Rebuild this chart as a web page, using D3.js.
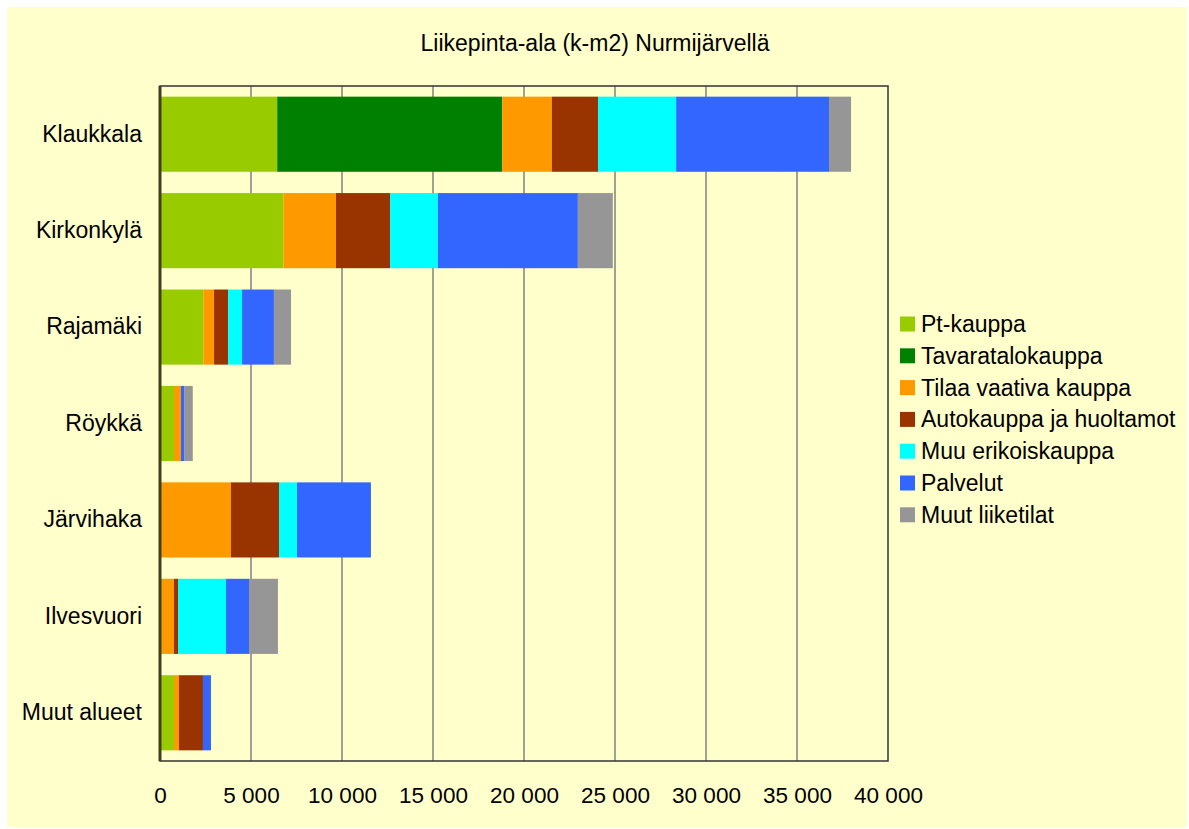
<!DOCTYPE html>
<html>
<head>
<meta charset="utf-8">
<script src="https://cdn.jsdelivr.net/npm/d3@7"></script>
<style>
  body { margin: 0; background: #fff; }
  text { font-family: "Liberation Sans", Arial, sans-serif; fill: #000; }
</style>
</head>
<body>
<div id="chart"></div>
<script>
const areas = ['Klaukkala', 'Kirkonkylä', 'Rajamäki', 'Röykkä', 'Järvihaka', 'Ilvesvuori', 'Muut alueet'];
const seriesNames = ['Pt-kauppa', 'Tavaratalokauppa', 'Tilaa vaativa kauppa', 'Autokauppa ja huoltamot', 'Muu erikoiskauppa', 'Palvelut', 'Muut liiketilat'];
const colors = ['#99CC00', '#008000', '#FF9900', '#993300', '#00FFFF', '#3366FF', '#969696'];

// values in m2, one array per series, in area order
const ptKauppa   = [6440, 6790, 2380, 770, 0, 0, 770];
const tavaratalo = [12360, 0, 0, 0, 0, 0, 0];
const tilaaVaat  = [2730, 2880, 590, 380, 3900, 770, 270];
const autokauppa = [2540, 2970, 770, 0, 2640, 220, 1320];
const muuErik    = [4290, 2630, 770, 0, 990, 2640, 0];
const palvelut   = [8400, 7690, 1750, 200, 4060, 1260, 440];
const muutTilat  = [1210, 1920, 940, 450, 0, 1590, 0];
const xTicks = [0, 5000, 10000, 15000, 20000, 25000, 30000, 35000, 40000];

const seriesValues = [ptKauppa, tavaratalo, tilaaVaat, autokauppa, muuErik, palvelut, muutTilat];
const rows = areas.map((a, i) => {
  const r = { area: a };
  seriesNames.forEach((s, j) => { r[s] = seriesValues[j][i]; });
  return r;
});

const W = 1189, H = 829;
const plot = { left: 160, right: 888, top: 86, bottom: 761 };

const svg = d3.select('#chart').append('svg')
  .attr('width', W)
  .attr('height', H);

// chart background
svg.append('rect')
  .attr('x', 7).attr('y', 7)
  .attr('width', W - 9).attr('height', H - 9)
  .attr('fill', '#FFFFCC');

const x = d3.scaleLinear().domain([0, 40000]).range([plot.left, plot.right]);
const y = d3.scaleBand().domain(areas).range([plot.top, plot.bottom])
  .paddingInner(0.221).paddingOuter(0.1105);

// title
svg.append('text')
  .attr('x', 595).attr('y', 51)
  .attr('text-anchor', 'middle')
  .style('font-size', '23px')
  .text('Liikepinta-ala (k-m2) Nurmijärvellä');

// gridlines
svg.append('g')
  .selectAll('line')
  .data(xTicks.slice(1, -1))
  .join('line')
  .attr('x1', d => x(d)).attr('x2', d => x(d))
  .attr('y1', plot.top).attr('y2', plot.bottom)
  .attr('stroke', '#808080')
  .attr('stroke-width', 1.5);

// stacked bars
const stack = d3.stack().keys(seriesNames);
const layers = stack(rows);

svg.append('g')
  .selectAll('g')
  .data(layers)
  .join('g')
  .attr('fill', (d, i) => colors[i])
  .selectAll('rect')
  .data(d => d)
  .join('rect')
  .attr('x', d => x(d[0]))
  .attr('y', d => y(d.data.area))
  .attr('width', d => x(d[1]) - x(d[0]))
  .attr('height', y.bandwidth());

// plot frame
svg.append('rect')
  .attr('x', plot.left).attr('y', plot.top)
  .attr('width', plot.right - plot.left)
  .attr('height', plot.bottom - plot.top)
  .attr('fill', 'none')
  .attr('stroke', '#333')
  .attr('stroke-width', 1.5);

svg.append('line')
  .attr('x1', plot.left).attr('x2', plot.left)
  .attr('y1', plot.top).attr('y2', plot.bottom)
  .attr('stroke', '#404020')
  .attr('stroke-width', 3);

// x axis
const xAxis = svg.append('g')
  .attr('transform', `translate(0,${plot.bottom})`)
  .call(d3.axisBottom(x).tickValues(xTicks).tickSize(0).tickPadding(26)
    .tickFormat(d => d3.format(',')(d).replace(/,/g, ' ')));
xAxis.select('.domain').remove();
xAxis.selectAll('text')
  .style('font-size', '22.5px')
  .style('font-family', '"Liberation Sans", Arial, sans-serif');

// y axis labels
const yAxis = svg.append('g')
  .attr('transform', `translate(${plot.left},0)`)
  .call(d3.axisLeft(y).tickSize(0).tickPadding(18));
yAxis.select('.domain').remove();
yAxis.selectAll('text')
  .style('font-size', '23px')
  .style('font-family', '"Liberation Sans", Arial, sans-serif');

// legend
const legend = svg.append('g').attr('transform', 'translate(900,324)');
const items = legend.selectAll('g')
  .data(seriesNames)
  .join('g')
  .attr('transform', (d, i) => `translate(0,${i * 31.8})`);
items.append('rect')
  .attr('x', 0).attr('y', -7.5)
  .attr('width', 15).attr('height', 15)
  .attr('fill', (d, i) => colors[i]);
items.append('text')
  .attr('x', 21).attr('y', 0)
  .attr('dy', '0.35em')
  .style('font-size', '23px')
  .text(d => d);
</script>
</body>
</html>
